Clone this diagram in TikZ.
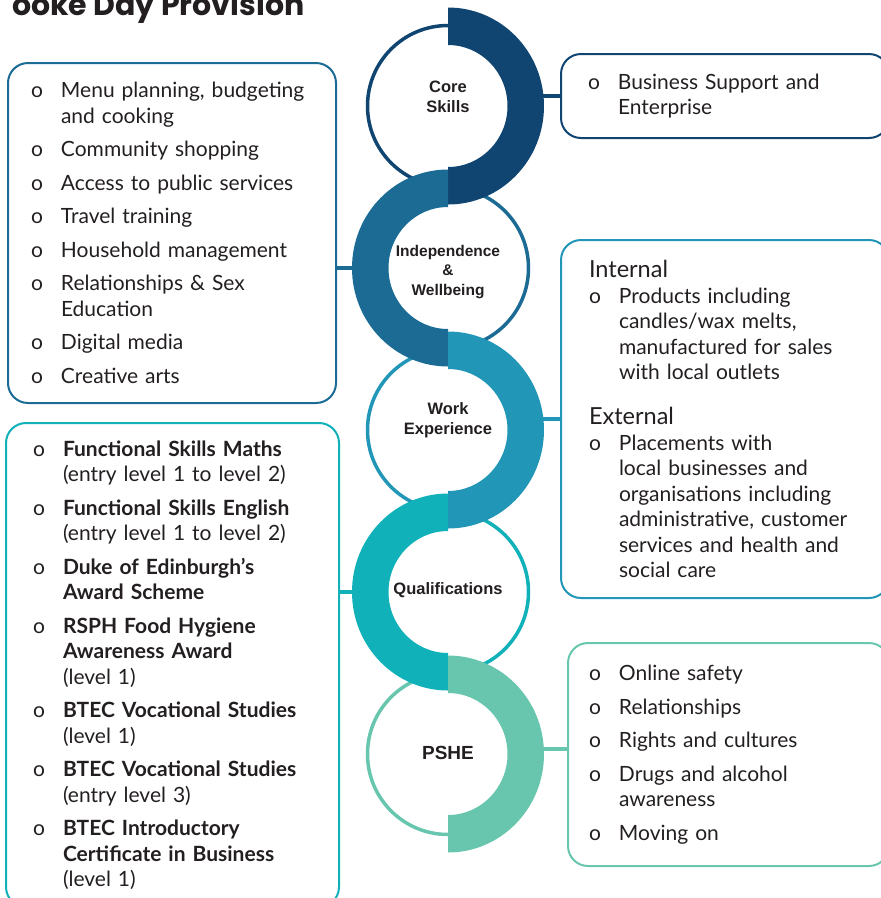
\documentclass[tikz,border=0pt]{standalone}
\usepackage{fontspec}
\setmainfont{Lato}
\newfontfamily\ringfont{Liberation Sans}
\newfontfamily\titlefont{Poppins}
\definecolor{navy}{RGB}{16, 69, 114}
\definecolor{steel}{RGB}{27, 107, 148}
\definecolor{ocean}{RGB}{33, 150, 183}
\definecolor{lagoon}{RGB}{16, 177, 185}
\definecolor{mint}{RGB}{104, 198, 174}
\definecolor{ink}{RGB}{35, 31, 32}

\newlength\bulw
\setlength\bulw{30pt}
\newcommand\bul[1]{\hangindent=\bulw\hangafter=1\noindent\makebox[\bulw][l]{o}#1\par}
\newcommand\listfont{\fontsize{21}{25.5}\selectfont\setlength\parskip{8pt}}
\newcommand\headfont{\fontsize{23.5}{26}\selectfont}

\tikzstyle{ring}=[circle, line width=3.5pt, minimum size=161pt, inner sep=0pt]
\tikzstyle{ringtext}=[text=ink, align=center, font=\ringfont\bfseries\fontsize{16.5}{20}\selectfont]
\tikzstyle{listbox}=[rounded corners=20pt, line width=2pt, anchor=north west,
    inner ysep=0pt, align=left, text=ink, font=\listfont]
\tikzstyle{link}=[line width=4pt]

\begin{document}
\begin{tikzpicture}[x=1pt, y=-1pt]

    \useasboundingbox (0, 0) rectangle (881, 898);
    \clip (0, 0) rectangle (881, 898);

    \node[anchor=base east, text=ink, font=\titlefont\bfseries\fontsize{30}{30}\selectfont]
        (title) at (308, 15) {ooke Day Provision};

    % thin rings
    \node[ring, draw=navy, label={[ringtext, yshift=9.5pt]center:Core\\Skills}]
        (core) at (448, 106) {};
    \node[ring, draw=steel, label={[ringtext, yshift=-4pt,
        font=\ringfont\bfseries\fontsize{15.5}{19.5}\selectfont]center:Independence\\\&\\Wellbeing}]
        (indep) at (448, 268) {};
    \node[ring, draw=ocean, label={[ringtext, yshift=9.5pt]center:Work\\Experience}]
        (work) at (448, 430) {};
    \node[ring, draw=lagoon, label={[ringtext, yshift=1.5pt]center:Qualifications}]
        (qual) at (448, 592) {};
    \node[ring, draw=mint, label={[ringtext, yshift=1pt,
        font=\ringfont\bfseries\fontsize{19}{22}\selectfont]center:PSHE}]
        (pshe) at (448, 754) {};

    % lists
    \node[listbox, draw=navy, inner xsep=27pt, text width=274pt, minimum height=84pt]
        (coreList) at (560, 53) {%
        \bul{Business Support and\newline Enterprise}};

    \node[listbox, draw=steel, inner xsep=23pt, text width=282pt, minimum height=340pt]
        (indepList) at (7, 62) {%
        \bul{Menu planning, budgeting\newline and cooking}
        \bul{Community shopping}
        \bul{Access to public services}
        \bul{Travel training}
        \bul{Household management}
        \bul{Relationships \& Sex\newline Education}
        \bul{Digital media}
        \bul{Creative arts}};

    \node[listbox, draw=ocean, inner xsep=28pt, text width=272pt, minimum height=358pt]
        (workList) at (560, 239) {%
        \setlength\parskip{0pt}%
        {\headfont Internal\par}
        \bul{Products including\newline candles/wax melts,\newline
            manufactured for sales\newline with local outlets}
        \vspace{19pt}
        {\headfont External\par}
        \bul{Placements with\newline local businesses and\newline
            organisations including\newline administrative, customer\newline
            services and health and\newline social care}};

    \node[listbox, draw=lagoon, inner xsep=27pt, text width=279pt, minimum height=484pt]
        (qualList) at (5, 422) {%
        \bul{\textbf{Functional Skills Maths}\newline (entry level 1 to level 2)}
        \bul{\textbf{Functional Skills English}\newline (entry level 1 to level 2)}
        \bul{\textbf{Duke of Edinburgh’s}\newline \textbf{Award Scheme}}
        \bul{\textbf{RSPH Food Hygiene}\newline \textbf{Awareness Award}\newline (level 1)}
        \bul{\textbf{BTEC Vocational Studies}\newline (level 1)}
        \bul{\textbf{BTEC Vocational Studies}\newline (entry level 3)}
        \bul{\textbf{BTEC Introductory}\newline \textbf{Certificate in Business}\newline (level 1)}};

    \node[listbox, draw=mint, inner xsep=21pt, text width=279pt, minimum height=223pt]
        (psheList) at (567, 642) {%
        \bul{Online safety}
        \bul{Relationships}
        \bul{Rights and cultures}
        \bul{Drugs and alcohol\newline awareness}
        \bul{Moving on}};

    \draw[link, navy] (coreList.west -| core.east) -- (coreList.west);
    \draw[link, steel] (indep.west) -- (indep.west -| indepList.east);
    \draw[link, ocean] (workList.west -| work.east) -- (workList.west);
    \draw[link, lagoon] (qual.west) -- (qual.west -| qualList.east);
    \draw[link, mint] ([yshift=6pt]psheList.west -| pshe.east) -- ([yshift=6pt]psheList.west);

    % thick half bands
    \foreach \nm/\col/\a in {core/navy/-90, indep/steel/270, work/ocean/-90,
                             qual/lagoon/270, pshe/mint/-90} {%
        \fill[\col] (\nm.center) ++(0, 98.5)
            arc[start angle=90, end angle=\a, x radius=96, y radius=98.5] --
            ++(0, 37.5)
            arc[start angle=\a, end angle=90, x radius=59.5, y radius=61] --
            cycle;
    };

\end{tikzpicture}
\end{document}
